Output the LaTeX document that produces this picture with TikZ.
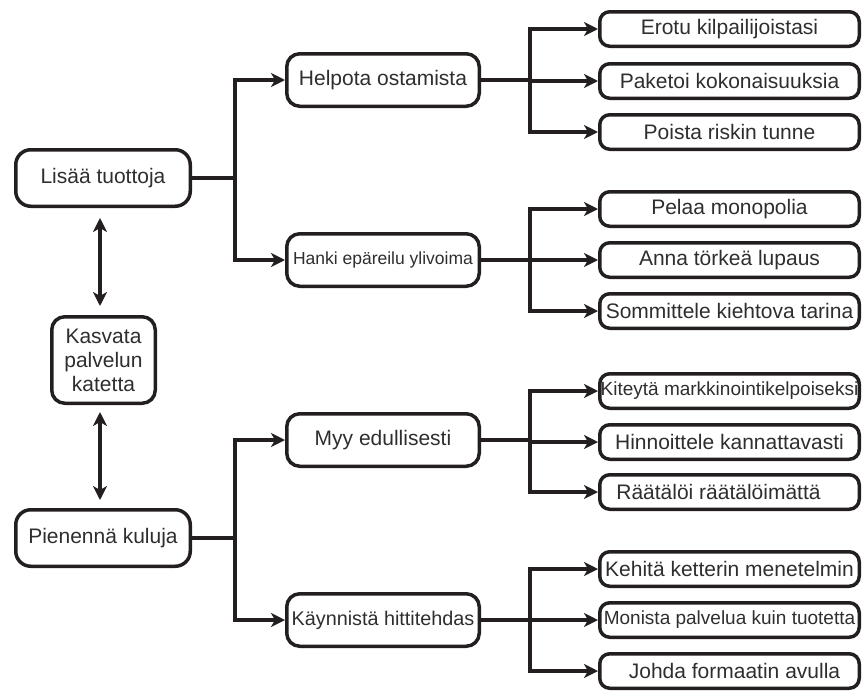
\documentclass[tikz,border=0pt]{standalone}
\usepackage{fontspec}
\setmainfont{Liberation Sans}
\usetikzlibrary{arrows.meta}
\definecolor{ln}{HTML}{231F20}
\definecolor{tx}{HTML}{2E2E2E}
\begin{document}
\begin{tikzpicture}[x=1pt,y=-1pt,
  box/.style={draw=ln, line width=3.5pt, text=tx, inner sep=0pt, font=\fontsize{21}{24}\selectfont, align=center},
  rbox/.style={box, rounded corners=10pt, minimum width=259.5pt, minimum height=34.5pt},
  mbox/.style={box, rounded corners=13pt, minimum width=192.5pt, minimum height=52.5pt},
  lbox/.style={box, rounded corners=15pt, minimum width=174.5pt, minimum height=56.5pt},
  small/.style={font=\fontsize{19}{22}\selectfont},
  conn/.style={draw=ln, line width=3.5pt},
  arr/.style={conn, -{Stealth[length=14pt,width=14pt,inset=4pt]}},
  darr/.style={conn, {Stealth[length=14pt,width=14pt,inset=4pt]}-{Stealth[length=14pt,width=14pt,inset=4pt]}},
]
\useasboundingbox (0,0) rectangle (864,691);

% left column
\node[lbox] (L) at (103,178) {Lisää tuottoja};
\node[box, rounded corners=13pt, minimum width=103.5pt, minimum height=86.5pt] (K) at (103.5,360) {Kasvata\\palvelun\\katetta};
\node[lbox] (P) at (103,538) {Pienennä kuluja};

% middle column
\node[mbox] (H) at (383,80) {Helpota ostamista};
\node[mbox, font=\fontsize{17.5}{20}\selectfont] (Hk) at (383,260) {Hanki epäreilu ylivoima};
\node[mbox] (M) at (383,440) {Myy edullisesti};
\node[mbox, font=\fontsize{19.8}{22}\selectfont] (Kh) at (383,620) {Käynnistä hittitehdas};

% right column
\node[rbox] (r1) at (729.5,29) {Erotu kilpailijoistasi};
\node[rbox] (r2) at (729.5,81) {Paketoi kokonaisuuksia};
\node[rbox] (r3) at (729.5,132) {Poista riskin tunne};
\node[rbox] (r4) at (729.5,209) {Pelaa monopolia};
\node[rbox] (r5) at (729.5,260) {Anna törkeä lupaus};
\node[rbox] (r6) at (729.5,311) {Sommittele kiehtova tarina};
\node[rbox, small] (r7) at (729.5,391) {Kiteytä markkinointikelpoiseksi};
\node[rbox] (r8) at (729.5,442) {Hinnoittele kannattavasti};
\node[rbox] (r9) at (729.5,492) {Räätälöi räätälöimättä\hspace*{22pt}};
\node[rbox] (r10) at (729.5,569) {Kehitä ketterin menetelmin};
\node[rbox, small] (r11) at (729.5,620) {Monista palvelua kuin tuotetta};
\node[rbox] (r12) at (729.5,671) {\hspace*{10pt}Johda formaatin avulla};

% junctions
\coordinate (jL) at (235,178);
\coordinate (jP) at (235,538);
\coordinate (jH) at (530,80);
\coordinate (jHk) at (530,260);
\coordinate (jM) at (530,440);
\coordinate (jKh) at (530,620);

% left connectors
\draw[conn] (L.east) -- (jL);
\draw[arr] (jL) |- (H.west);
\draw[arr] (jL) |- (Hk.west);
\draw[conn] (P.east) -- (jP);
\draw[arr] (jP) |- (M.west);
\draw[arr] (jP) |- (Kh.west);

% double arrows
\draw[darr] ([xshift=-3pt,yshift=-10pt]L.south) -- ([xshift=-3.5pt,yshift=9pt]K.north);
\draw[darr] ([xshift=-3.5pt,yshift=-7pt]K.south) -- ([xshift=-3pt,yshift=8pt]P.north);

% middle to right
\draw[conn] (H.east) -- (jH);
\draw[arr] (jH) |- (r1.west);
\draw[arr] (jH) |- (r2.west);
\draw[arr] (jH) |- (r3.west);
\draw[conn] (Hk.east) -- (jHk);
\draw[arr] (jHk) |- (r4.west);
\draw[arr] (jHk) |- (r5.west);
\draw[arr] (jHk) |- (r6.west);
\draw[conn] (M.east) -- (jM);
\draw[arr] (jM) |- (r7.west);
\draw[arr] (jM) |- (r8.west);
\draw[arr] (jM) |- (r9.west);
\draw[conn] (Kh.east) -- (jKh);
\draw[arr] (jKh) |- (r10.west);
\draw[arr] (jKh) |- (r11.west);
\draw[arr] (jKh) |- (r12.west);
\end{tikzpicture}
\end{document}
